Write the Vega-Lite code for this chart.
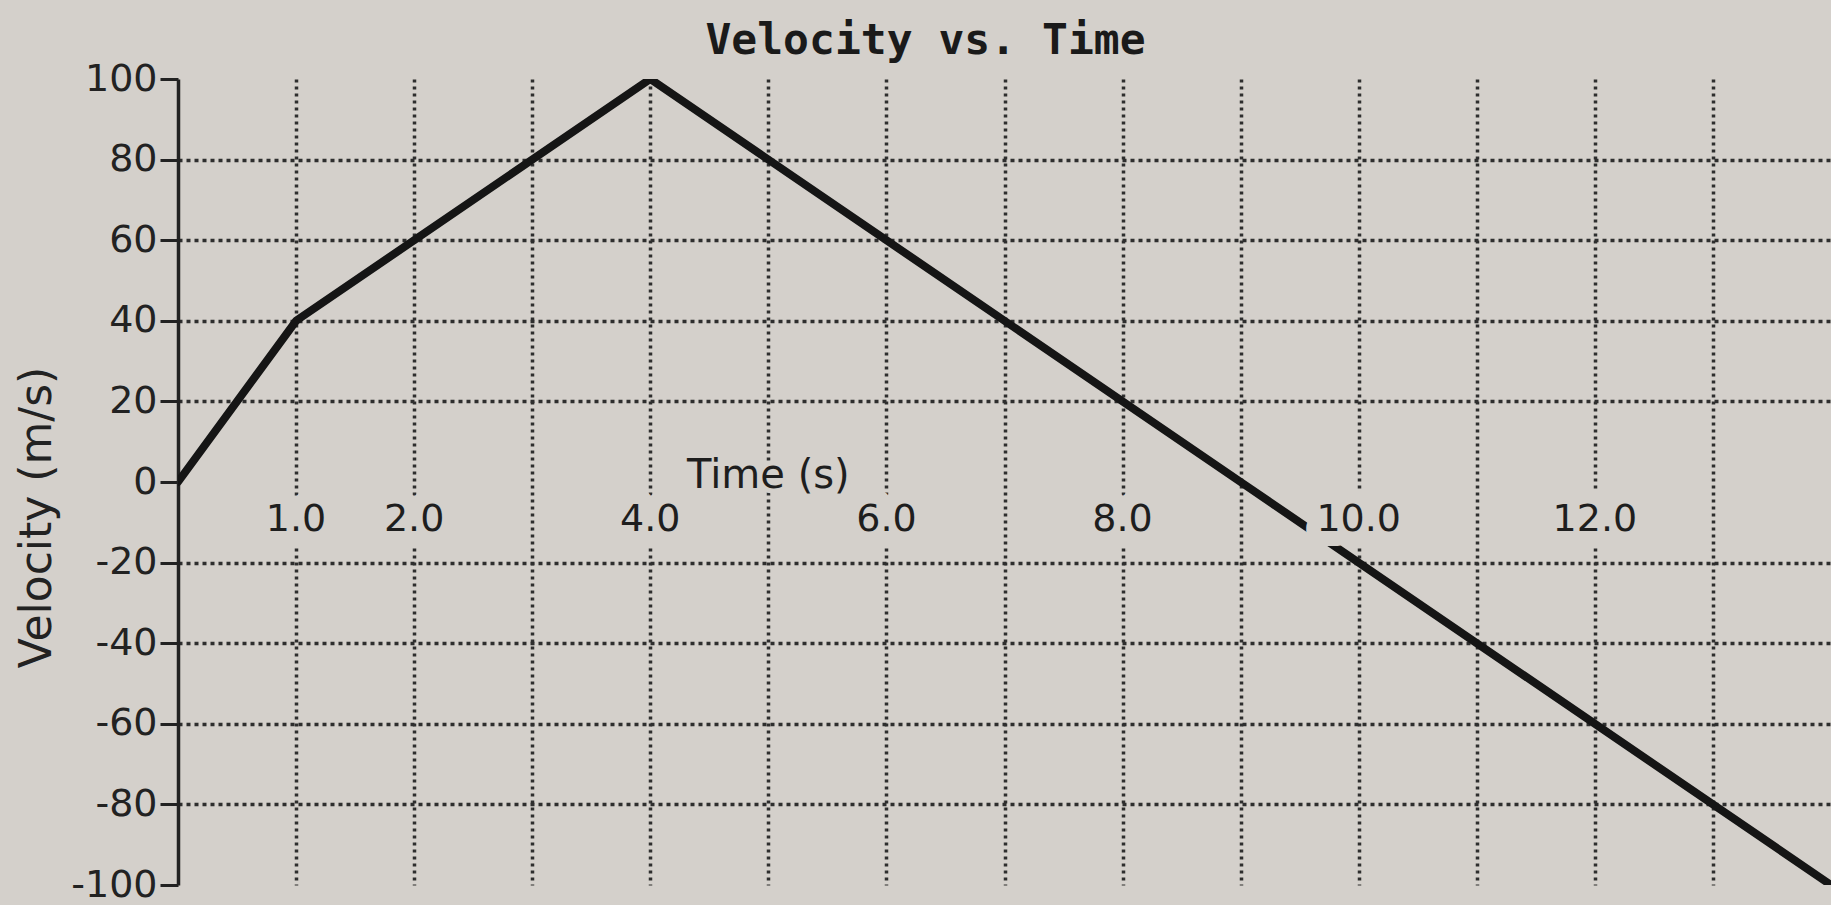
{
  "$schema": "https://vega.github.io/schema/vega-lite/v6.json",
  "autosize": {"type": "none"},
  "padding": {"left": 178, "top": 79, "right": 0, "bottom": 20},
  "width": 1653,
  "height": 806,
  "background": "#d4d0cb",
  "title": {
    "text": "Velocity vs. Time",
    "font": "DejaVu Sans Mono",
    "fontSize": 43,
    "fontWeight": "bold",
    "color": "#1a1a1a",
    "anchor": "middle",
    "frame": "group",
    "dx": -79,
    "dy": 27,
    "offset": 24
  },
  "datasets": {
    "velocity": [
      {"t": 0, "v": 0},
      {"t": 1, "v": 40},
      {"t": 4, "v": 100},
      {"t": 9, "v": 0},
      {"t": 14, "v": -100}
    ],
    "timeLabels": [
      {"t": 1, "v": 0, "label": "1.0"},
      {"t": 2, "v": 0, "label": "2.0"},
      {"t": 4, "v": 0, "label": "4.0"},
      {"t": 6, "v": 0, "label": "6.0"},
      {"t": 8, "v": 0, "label": "8.0"},
      {"t": 10, "v": 0, "label": "10.0"},
      {"t": 12, "v": 0, "label": "12.0"}
    ],
    "axisName": [
      {"t": 5, "v": 0, "label": "Time (s)"}
    ]
  },
  "layer": [
    {
      "data": {"name": "velocity"},
      "mark": {"type": "line", "color": "#151515", "strokeWidth": 8, "strokeJoin": "round", "strokeCap": "round", "clip": true},
      "encoding": {
        "x": {
          "field": "t",
          "type": "quantitative",
          "scale": {"domain": [0, 14], "nice": false, "zero": false},
          "axis": {
            "values": [1, 2, 3, 4, 5, 6, 7, 8, 9, 10, 11, 12, 13],
            "grid": true,
            "gridDash": [3, 4],
            "gridWidth": 3.5,
            "gridColor": "#2e2e2e",
            "labels": false,
            "ticks": false,
            "domain": false,
            "title": null
          }
        },
        "y": {
          "field": "v",
          "type": "quantitative",
          "scale": {"domain": [-100, 100], "nice": false},
          "axis": {
            "values": [-100, -80, -60, -40, -20, 0, 20, 40, 60, 80, 100],
            "labelExpr": "toString(datum.value)",
            "title": "Velocity (m/s)",
            "titleFont": "DejaVu Sans",
            "titleFontSize": 44,
            "titleFontWeight": "normal",
            "titleColor": "#222222",
            "titleAngle": -90,
            "titleAlign": "center",
            "titleBaseline": "middle",
            "titleX": -141,
            "titleY": 438,
            "labelFont": "DejaVu Sans",
            "labelFontSize": 38,
            "labelColor": "#222222",
            "labelPadding": 3,
            "tickSize": 18,
            "tickWidth": 3,
            "tickColor": "#222222",
            "domainColor": "#222222",
            "domainWidth": 3.5,
            "grid": true,
            "gridDash": [4, 4],
            "gridWidth": 3.5,
            "gridColor": "#2e2e2e",
            "gridOpacity": {
              "condition": {"test": "datum.value == 0 || abs(datum.value) == 100", "value": 0},
              "value": 1
            }
          }
        }
      }
    },
    {
      "mark": {"type": "rule", "color": "#1e1e1e", "strokeWidth": 4},
      "encoding": {"y": {"datum": 0}}
    },
    {
      "data": {"name": "timeLabels"},
      "mark": {
        "type": "text",
        "font": "DejaVu Sans",
        "fontSize": 38,
        "baseline": "middle",
        "align": "center",
        "dy": 38,
        "fill": "#d4d0cb",
        "stroke": "#d4d0cb",
        "strokeWidth": 30,
        "strokeJoin": "round"
      },
      "encoding": {
        "x": {"field": "t", "type": "quantitative"},
        "y": {"field": "v", "type": "quantitative"},
        "text": {"field": "label"}
      }
    },
    {
      "data": {"name": "timeLabels"},
      "mark": {
        "type": "text",
        "font": "DejaVu Sans",
        "fontSize": 38,
        "baseline": "middle",
        "align": "center",
        "dy": 38,
        "color": "#1e1e1e"
      },
      "encoding": {
        "x": {"field": "t", "type": "quantitative"},
        "y": {"field": "v", "type": "quantitative"},
        "text": {"field": "label"}
      }
    },
    {
      "data": {"name": "axisName"},
      "mark": {
        "type": "text",
        "font": "DejaVu Sans",
        "fontSize": 40,
        "baseline": "middle",
        "align": "center",
        "dy": -6,
        "fill": "#d4d0cb",
        "stroke": "#d4d0cb",
        "strokeWidth": 10,
        "strokeJoin": "round"
      },
      "encoding": {
        "x": {"field": "t", "type": "quantitative"},
        "y": {"field": "v", "type": "quantitative"},
        "text": {"field": "label"}
      }
    },
    {
      "data": {"name": "axisName"},
      "mark": {
        "type": "text",
        "font": "DejaVu Sans",
        "fontSize": 40,
        "baseline": "middle",
        "align": "center",
        "dy": -6,
        "color": "#1e1e1e"
      },
      "encoding": {
        "x": {"field": "t", "type": "quantitative"},
        "y": {"field": "v", "type": "quantitative"},
        "text": {"field": "label"}
      }
    }
  ],
  "config": {
    "view": {"stroke": null}
  }
}
